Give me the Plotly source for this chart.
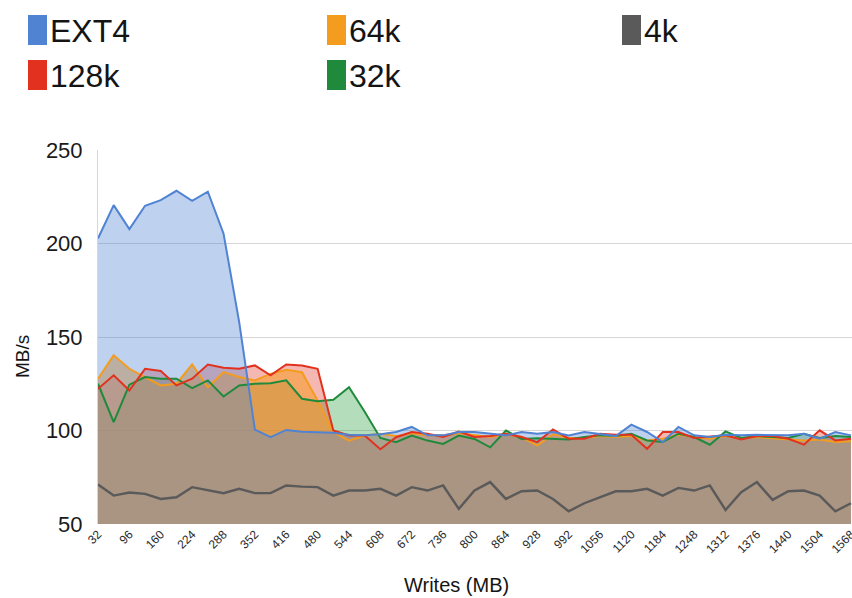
import plotly.graph_objects as go

# Write size in MB for each sample (32 MB steps)
writes_mb = list(range(32, 1569, 32))

ext4 = [202.7, 220.5, 207.7, 220.2, 223.2, 228.2, 222.8, 227.7, 205.4, 158.0,
        100.5, 96.4, 100.3, 99.3, 99.1, 98.8, 97.7, 97.5, 98.0, 99.2,
        101.9, 97.4, 97.4, 99.2, 99.2, 98.3, 97.4, 99.2, 98.3, 99.2,
        97.4, 99.2, 98.3, 97.0, 103.1, 99.2, 93.8, 101.9, 97.4, 96.5,
        97.7, 97.4, 97.7, 97.7, 97.4, 98.3, 95.6, 99.2, 97.4]

k128 = [122.3, 129.5, 121.4, 133.0, 131.8, 124.1, 127.7, 135.3, 133.6, 133.0,
        134.8, 129.5, 135.3, 134.8, 133.0, 100.0, 97.3, 97.3, 90.0, 96.4,
        99.2, 98.3, 96.5, 99.5, 96.5, 97.0, 98.3, 96.5, 93.8, 100.6,
        95.6, 95.6, 98.3, 97.7, 97.7, 90.2, 99.2, 99.2, 96.0, 96.5,
        97.4, 95.2, 97.0, 97.0, 95.6, 92.4, 100.1, 94.7, 95.6]

k64 = [127.7, 140.2, 133.0, 128.6, 124.1, 125.0, 135.3, 123.2, 131.2, 128.6,
       126.8, 130.3, 132.5, 131.2, 116.0, 99.1, 94.6, 97.3, 98.2, 97.0,
       98.5, 97.5, 97.4, 98.5, 97.4, 96.5, 98.0, 96.5, 92.0, 98.0,
       96.0, 96.0, 97.0, 96.5, 97.0, 94.7, 95.6, 97.7, 96.5, 95.6,
       97.0, 96.0, 96.5, 96.0, 95.6, 94.7, 95.2, 93.8, 94.2]

k32 = [125.0, 104.5, 124.5, 128.6, 127.7, 127.7, 122.7, 126.8, 118.2, 124.1,
       125.0, 125.3, 126.8, 117.0, 115.7, 116.4, 123.2, 110.0, 96.0, 93.7,
       97.3, 94.6, 92.8, 97.3, 95.5, 91.0, 100.0, 95.5, 95.8, 95.5,
       95.2, 96.5, 97.4, 97.0, 98.3, 94.7, 93.8, 98.3, 96.5, 92.4,
       99.5, 96.0, 97.0, 96.5, 96.0, 98.3, 96.0, 97.0, 96.5]

k4 = [71.1, 65.2, 66.8, 66.1, 63.4, 64.3, 69.7, 68.2, 66.5, 68.8,
      66.5, 66.5, 70.6, 70.0, 69.7, 65.2, 67.9, 67.9, 68.8, 65.2,
      69.7, 67.9, 70.6, 58.1, 67.9, 72.4, 63.4, 67.5, 67.9, 63.4,
      56.8, 61.1, 64.3, 67.5, 67.5, 68.8, 65.2, 69.3, 67.9, 70.6,
      57.5, 67.0, 72.4, 62.9, 67.5, 67.9, 65.2, 56.8, 61.1]

tick_vals = writes_mb[::2]
y_ticks = [50, 100, 150, 200, 250]

line_colors = {"EXT4": "#5183d3", "128k": "#e2321f", "64k": "#f39c1e",
               "32k": "#1f8a3b", "4k": "#5a5a5a"}
fill_colors = {"32k": "rgba(40,160,60,0.35)", "128k": "rgba(225,50,35,0.35)",
               "64k": "rgba(245,155,35,0.55)", "EXT4": "rgba(85,135,212,0.38)"}
values = {"EXT4": ext4, "128k": k128, "64k": k64, "32k": k32, "4k": k4}

fig = go.Figure()

# translucent area fills, blended in this order
for name in ["32k", "128k", "64k", "EXT4"]:
    fig.add_trace(go.Scatter(x=writes_mb, y=values[name], mode="lines",
                             line=dict(width=0), fill="tozeroy",
                             fillcolor=fill_colors[name], showlegend=False,
                             hoverinfo="skip"))

# series lines drawn over all the fills
for name in ["4k", "64k", "32k", "128k", "EXT4"]:
    fig.add_trace(go.Scatter(x=writes_mb, y=values[name], mode="lines",
                             name=name,
                             line=dict(color=line_colors[name],
                                       width=2.4 if name == "4k" else 2),
                             showlegend=False))

# plot area in pixels
L, R, T, B = 98, 852, 150, 524
x_end = 1570


def px_x(p):
    return (p - L) / (R - L)


def px_y(p):
    return (B - p) / (B - T)


legend_items = [("EXT4", 28, 30), ("64k", 327, 30), ("4k", 622, 30),
                ("128k", 28, 75), ("32k", 327, 75)]
shapes = []
annotations = []
for name, lx, cy in legend_items:
    shapes.append(dict(type="rect", xref="paper", yref="paper",
                       x0=px_x(lx), x1=px_x(lx + 19), y0=px_y(cy + 15), y1=px_y(cy - 15),
                       fillcolor=line_colors[name], line=dict(width=0)))
    annotations.append(dict(text=name, xref="paper", yref="paper",
                            x=px_x(lx + 20), y=px_y(cy + 1), xanchor="left", yanchor="middle",
                            showarrow=False,
                            font=dict(size=32, color="#141414", family="Liberation Sans, Arial")))

annotations.append(dict(text="MB/s", xref="paper", yref="paper", x=px_x(22), y=px_y(357),
                        textangle=-90, showarrow=False, xanchor="center", yanchor="middle",
                        font=dict(size=19, color="#141414", family="Liberation Sans, Arial")))
annotations.append(dict(text="Writes (MB)", xref="paper", yref="paper", x=px_x(456), y=px_y(585),
                        showarrow=False, xanchor="center", yanchor="middle",
                        font=dict(size=20, color="#141414", family="Liberation Sans, Arial")))

fig.update_layout(
    width=852, height=598,
    margin=dict(l=L, r=852 - R, t=T, b=598 - B),
    paper_bgcolor="white", plot_bgcolor="white",
    showlegend=False,
    shapes=shapes, annotations=annotations,
    font=dict(family="Liberation Sans, Arial", color="#222"),
)
fig.update_xaxes(range=[writes_mb[0], x_end], tickmode="array",
                 tickvals=tick_vals, ticktext=[str(v) for v in tick_vals],
                 tickangle=-45, tickfont=dict(size=12, color="#2a2a2a"),
                 ticklabeloverflow="allow", automargin=False,
                 showgrid=False, zeroline=False, showline=False, ticks="")
fig.update_yaxes(range=[50, 250], tickmode="array", tickvals=y_ticks,
                 tickfont=dict(size=22, color="#1a1a1a"), ticklabelstandoff=10,
                 automargin=False,
                 showgrid=True, gridcolor="#d9d6d4", gridwidth=1, zeroline=False,
                 showline=True, linecolor="#d9d6d4", linewidth=1, ticks="")

fig.write_html("out.html")
